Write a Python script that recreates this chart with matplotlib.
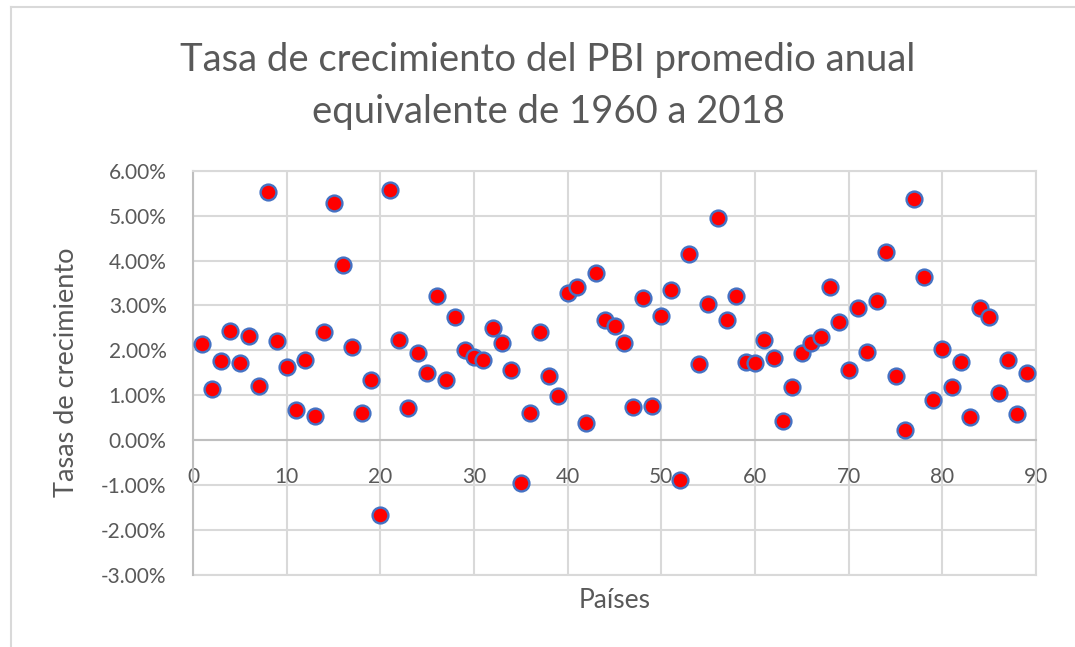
import matplotlib
matplotlib.use("Agg")
import matplotlib.pyplot as plt
from matplotlib.ticker import FuncFormatter, MultipleLocator
from matplotlib.lines import Line2D

paises = list(range(1, 90))
tasas = [
    2.14, 1.14, 1.76, 2.43, 1.72, 2.33, 1.21, 5.52, 2.20, 1.62,
    0.67, 1.79, 0.54, 2.40, 5.29, 3.89, 2.08, 0.60, 1.35, -1.67,
    5.58, 2.23, 0.71, 1.94, 1.50, 3.22, 1.35, 2.75, 2.01, 1.85,
    1.79, 2.49, 2.17, 1.56, -0.96, 0.60, 2.42, 1.43, 0.98, 3.28,
    3.41, 0.38, 3.73, 2.67, 2.55, 2.17, 0.73, 3.16, 0.77, 2.77,
    3.35, -0.89, 4.15, 1.69, 3.03, 4.94, 2.67, 3.22, 1.75, 1.72,
    2.23, 1.82, 0.42, 1.18, 1.94, 2.17, 2.30, 3.41, 2.64, 1.56,
    2.94, 1.97, 3.10, 4.18, 1.43, 0.22, 5.36, 3.63, 0.89, 2.04,
    1.18, 1.75, 0.51, 2.94, 2.75, 1.05, 1.79, 0.58, 1.50,
]
titulo = "Tasa de crecimiento del PBI promedio anual\nequivalente de 1960 a 2018"
etiqueta_x = "Países"
etiqueta_y = "Tasas de crecimiento"

FONT = "Lato"
W, H = 1075, 647
fig = plt.figure(figsize=(W / 100, H / 100), dpi=100)
fig.patch.set_facecolor("white")

# outer frame (screenshot border)
fig.add_artist(Line2D([11 / W, 11 / W], [0, 1 - 7 / H], color="#d9d9d9", lw=1.5))
fig.add_artist(Line2D([11 / W, 1], [1 - 7 / H, 1 - 7 / H], color="#d9d9d9", lw=1.5))

left, right, top, bottom = 193, 1036, 170.7, 575
ax = fig.add_axes([left / W, 1 - bottom / H, (right - left) / W, (bottom - top) / H])
ax.set_xlim(0, 90)
ax.set_ylim(-3, 6)
ax.xaxis.set_major_locator(MultipleLocator(10))
ax.yaxis.set_major_locator(MultipleLocator(1))
ax.yaxis.set_major_formatter(FuncFormatter(lambda v, p: f"{v:.2f}%"))
ax.grid(True, color="#d9d9d9", lw=1.5)
ax.set_axisbelow(True)

for s in ["top", "right"]:
    ax.spines[s].set_color("#d9d9d9")
    ax.spines[s].set_linewidth(1.5)
ax.spines["left"].set_color("#bfbfbf")
ax.spines["left"].set_linewidth(1.5)
ax.spines["bottom"].set_position(("data", 0))
ax.spines["bottom"].set_color("#bfbfbf")
ax.spines["bottom"].set_linewidth(1.5)
ax.axhline(-3, color="#d9d9d9", lw=1.5, clip_on=False, zorder=0.5)

ax.tick_params(axis="both", length=0, labelcolor="#595959", labelsize=15)
ax.tick_params(axis="y", pad=19)
ax.tick_params(axis="x", pad=19)
for lab in ax.get_xticklabels() + ax.get_yticklabels():
    lab.set_family(FONT)

ax.scatter(paises, tasas, s=130, c="#ff0000", edgecolors="#4472c4",
           linewidths=1.7, zorder=3, clip_on=False)

fig.text(548 / W, 1 - 86 / H, titulo, ha="center", va="center", fontsize=27.5,
         color="#595959", family=FONT, linespacing=1.56)
fig.text(67 / W, 1 - 372 / H, etiqueta_y, ha="center", va="center", rotation=90,
         fontsize=19.5, color="#595959", family=FONT)
fig.text(615 / W, 1 - 600 / H, etiqueta_x, ha="center", va="center",
         fontsize=19, color="#595959", family=FONT)

fig.savefig("out.png", dpi=100)
